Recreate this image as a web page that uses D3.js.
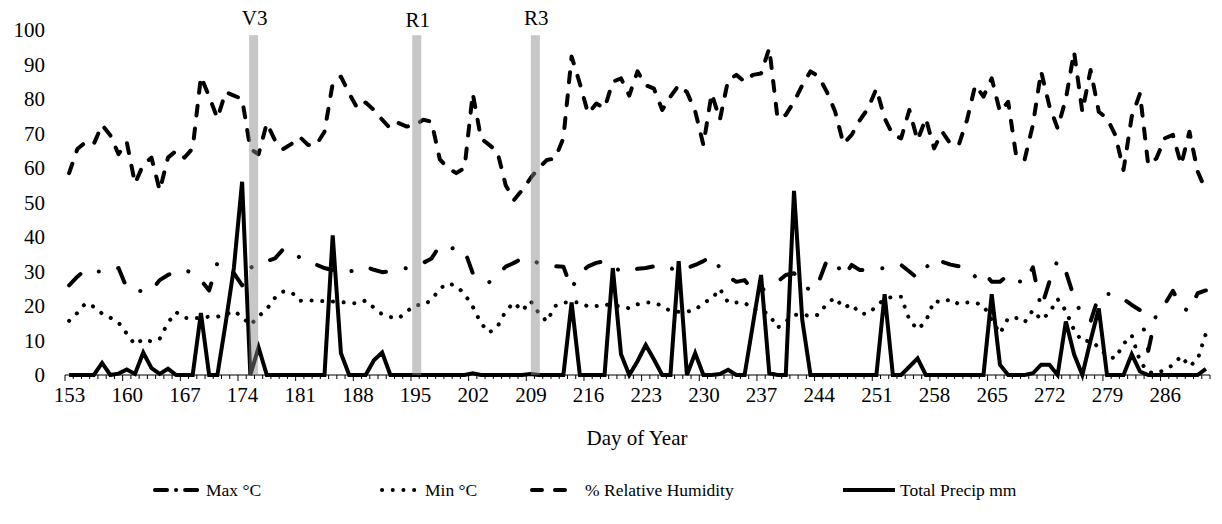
<!DOCTYPE html>
<html><head><meta charset="utf-8">
<script src="https://cdn.jsdelivr.net/npm/d3@7"></script>
<style>body{margin:0;background:#fff}svg text{font-family:"Liberation Serif","Times New Roman",serif !important;fill:#000}</style>
</head><body><svg id="c" width="1222" height="524"></svg>
<script>
const firstDay = 153, lastDay = 291;
const tickDays = [153,160,167,174,181,188,195,202,209,216,223,230,237,244,251,258,265,272,279,286];
const yTicks = [0,10,20,30,40,50,60,70,80,90,100];
const stageNames = ["V3","R1","R3"];
const stageDays = [175.4,195.2,209.6];

const maxT = [
26,28.5,30.5,30,30,30,31,25.2,25,24,
24.5,27.5,29,30,30.5,29.5,27.5,24.5,32.5,31,
29.5,26,31,32.5,33,33.8,36.5,36.2,34,32.8,
32,31,30.4,29.5,30,30.5,31.4,30.5,29.8,30.1,
30.5,31,31.9,32.5,33.8,37.5,37,36.5,36.2,29.5,
27.5,26.9,29,31.4,32.5,33.8,33.5,32.4,32,31.5,
31.4,25,29.5,31.5,32.5,33,31.5,30,30,30.8,
31,31.5,31.9,31,30,31,31.9,33,34.5,31,
28.5,27,27.5,24.6,24.5,25.6,27,29,29.5,27,
24.2,27,33.3,33,28.5,31.9,30.4,30.5,30.8,31,
31.1,31.9,30,28,31,33.8,32.8,32,31.5,31,
28.5,30,27,27,29,27.5,26.6,31.2,19.3,27,
33.3,30,22.5,17,15.5,23,23.5,23.5,22,20.3,
18.8,7,18,20.5,24.4,19.6,18.5,23.7,24.5];

const minT = [
15.7,18,20.8,19.8,17.8,16.6,15.2,12,8.8,10.4,
9.7,10.5,15.2,18.2,16.6,16.4,16.6,16.9,16.9,17.5,
18.6,16.8,14.5,17,19.1,22.4,24.2,24,21.5,21.7,
21.5,21.4,21.3,21.1,21,20.7,21.6,19.5,17.6,16.8,
16.4,18.4,20.3,20.2,21.8,25,26.6,25.8,23.5,19.8,
15,12.3,14,18.5,21,18.6,21.5,18,15.5,20,
21,21,21.1,19.8,20,20.5,20,20,19.3,20.5,
21,21,20,18.5,18.3,18.4,18.8,21,22,25,
21,21,21,19,18.8,17.5,13.7,15.5,17.4,17.6,
17,17.5,20.8,22.4,19.5,20.5,17.8,17.7,20,22,
22.7,22.7,16,13.2,15.5,21.5,21,22,20.5,21,
21,20.1,16,12,16.5,16.5,15.3,18.8,16,18,
22,18.6,13,9.7,10,8,5.5,4.8,9,11.5,
4,0.8,0.5,1.5,2.9,5.5,2.5,4.5,12];

const rh = [
58.5,65.5,67.5,67,72.5,69.5,64,67.5,55.5,61,
63,53.5,63,65,63,65.7,86.5,80.7,74.4,82,
81,80,65.5,64,73,68,65.5,67,69,66.7,
66.7,70.5,84.5,86.5,81.6,77.3,79,76.8,74,71.5,
73,72,72.5,74,73.4,62.5,60,58.5,60,81.6,
68.6,66.7,64.7,55,50.7,53.6,57,60,62.3,62.8,
68.6,92.3,84.5,75.8,78.7,77.3,85,86,81,88,
84,83,76.8,80.7,84,82,76.5,66.7,81.6,74,
85.5,87,85,87,87.4,94.7,74.4,75.4,79.2,84,
88,86.5,82,76.3,67,69.6,73.9,77.3,83,74.4,
69.6,68.6,76.8,68,74.4,65.7,70.5,67,66.7,73.9,
84,80.7,86,76.3,79.2,63,62.5,72.5,88,78,
71.5,80,93.7,76.3,88.4,76.3,74.4,69.6,59.4,74.9,
81.6,60.9,62.8,68.6,69.6,60.9,70.5,59,53.5];

const precip = [
0,0,0,0,3.5,0,0.4,1.6,0.3,6.5,
2,0.3,1.8,0,0,0,18,0,0,15,
31,56,0,8,0,0,0,0,0,0,
0,0,40.5,6.3,0,0,0,4.3,6.5,0,
0,0,0,0,0,0,0,0,0,0.5,
0,0,0,0,0,0,0.3,0,0,0,
0,21,0,0,0,0,31,6,0,4,
8.7,4.5,0,0,33,0,6.3,0,0,0.3,
1.5,0,0,14.5,29,0.5,0,0,53.4,16,
0,0,0,0,0,0,0,0,0,23.4,
0,0,2.4,4.8,0,0,0,0,0,0,
0,0,23.4,3,0,0,0,0.5,3,3,
0,15.5,6,0,10,19.3,0,0,0,6,
1,0,0,0,0,0,0,0,1.8];

const days = d3.range(firstDay, lastDay + 1);
const svg = d3.select("#c");
const x = d3.scaleLinear().domain([firstDay - 0.5, lastDay + 0.5]).range([65, 1210]);
const y = d3.scaleLinear().domain([0, 100]).range([375, 30]);

const series = [
  {name:"Max °C", values:maxT, w:4, dash:"16,20,0.1,20", lx0:155, lx1:200, tx:206},
  {name:"Min °C", values:minT, w:4, dash:"0.1,10.6", lx0:382, lx1:420, tx:425},
  {name:"% Relative Humidity", values:rh, w:4, dash:"10,13", lx0:532, lx1:577, tx:585},
  {name:"Total Precip mm", values:precip, w:4, dash:null, lx0:843, lx1:895, tx:900}
];

// y axis labels
const ya = svg.append("g").attr("transform","translate(47,0)")
  .call(d3.axisLeft(y).tickValues(yTicks).tickSize(0).tickPadding(2));
ya.select(".domain").remove();
ya.selectAll("text").attr("font-family",null).style("font-size","21px");

// lines
const line = d3.line().x((d,i)=>x(days[i])).y(d=>y(d));
series.forEach(s=>{
  svg.append("path").datum(s.values).attr("d",line)
    .attr("fill","none").attr("stroke","#000").attr("stroke-width",s.w)
    .attr("stroke-linecap", s.dash ? "round" : "butt")
    .attr("stroke-linejoin", s.dash ? "round" : "miter")
    .attr("stroke-dasharray", s.dash);
});

// x axis
const xa = svg.append("g");
xa.append("line").attr("x1",x(firstDay-0.5)).attr("x2",x(lastDay+0.5))
  .attr("y1",y(0)).attr("y2",y(0)).attr("stroke","#000").attr("stroke-width",1.2);
const bounds = d3.range(firstDay - 0.5, lastDay + 1, 1);
xa.selectAll("line.tk").data(bounds).join("line").attr("class","tk")
  .attr("x1",d=>x(d)).attr("x2",d=>x(d)).attr("y1",y(0))
  .attr("y2",d=>y(0) + (((d - (firstDay-0.5)) % 7 === 0) ? 6 : 4))
  .attr("stroke","#000").attr("stroke-width",1);
const xl = svg.append("g").attr("transform",`translate(0,${y(0)})`)
  .call(d3.axisBottom(x).tickValues(tickDays).tickSize(0).tickPadding(12).tickFormat(d3.format("d")));
xl.select(".domain").remove();
xl.attr("font-family",null);
ya.attr("font-family",null);
xl.selectAll("text").style("font-size","21px");

// growth stage bars (drawn over lines, translucent)
const bw = 9;
svg.selectAll("rect.stage").data(stageDays).join("rect").attr("class","stage")
  .attr("x",d=>x(d)-bw/2).attr("width",bw)
  .attr("y",y(98.5)).attr("height",y(0)-y(98.5))
  .attr("fill","rgb(137,137,137)").attr("fill-opacity",0.47);
svg.selectAll("text.stage").data(stageNames).join("text").attr("class","stage")
  .attr("x",(d,i)=>x(stageDays[i])+1).attr("y",(d,i)=> i===1 ? 27 : 25)
  .attr("text-anchor","middle").style("font-size","21px").text(d=>d);

// axis title
svg.append("text").attr("x",637).attr("y",445).attr("text-anchor","middle")
  .style("font-size","21px").text("Day of Year");

// legend
const lg = svg.append("g");
series.forEach(s=>{
  lg.append("line").attr("x1",s.lx0).attr("x2",s.lx1).attr("y1",490).attr("y2",490)
    .attr("stroke","#000").attr("stroke-width",s.w)
    .attr("stroke-linecap", s.dash ? "round" : "butt")
    .attr("stroke-dasharray", s.dash ? (s.name==="Max °C" ? "12,9,0.1,9" : s.dash) : null);
  lg.append("text").attr("x",s.tx).attr("y",496).style("font-size","17.5px").text(s.name);
});
</script></body></html>
